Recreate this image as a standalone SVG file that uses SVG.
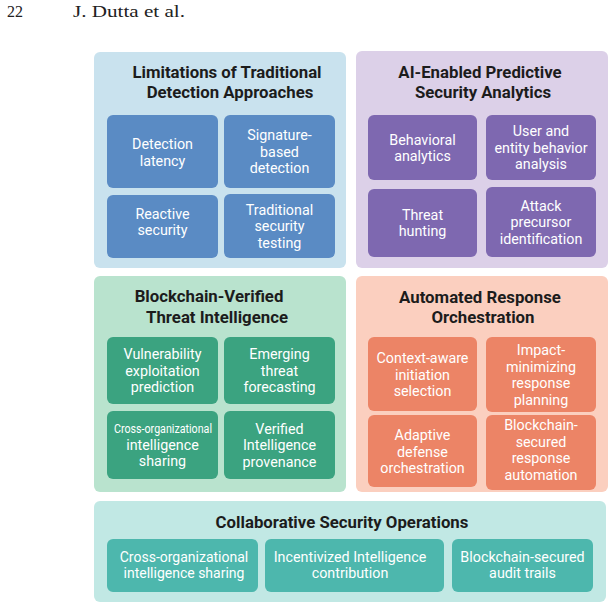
<svg xmlns="http://www.w3.org/2000/svg" width="615" height="609" viewBox="0 0 615 609">
<style>
.hdr{font-family:"Liberation Serif",serif;font-size:16px;fill:#222}
.ttl{font-family:Roboto,"Liberation Sans",sans-serif;font-size:16.8px;font-weight:bold;fill:#1c1c1c;text-anchor:middle}
.lbl{font-family:Roboto,"Liberation Sans",sans-serif;font-size:14.3px;fill:#ffffff;text-anchor:middle}
.p1{fill:#c9e2ee}.b1{fill:#5a8bc4}
.p2{fill:#dcd0e8}.b2{fill:#7e68b0}
.p3{fill:#b9e3ce}.b3{fill:#3ba380}
.p4{fill:#fbcfbf}.b4{fill:#ec8466}
.p5{fill:#c1e8e4}.b5{fill:#4db7ad}
</style>
<rect width="615" height="609" fill="#ffffff"/>
<text class="hdr" x="7" y="17">22</text>
<text class="hdr" x="73" y="17" textLength="112" lengthAdjust="spacingAndGlyphs">J. Dutta et al.</text>

<g id="panel-limitations">
<rect class="p1" x="94" y="52" width="252" height="216" rx="6"/>
<text class="ttl" x="227" y="78">Limitations of Traditional</text>
<text class="ttl" x="230" y="98">Detection Approaches</text>
<g id="n-detection-latency"><rect class="b1" x="107" y="115" width="111" height="73" rx="6"/>
<text class="lbl" x="162.5" y="149">Detection</text><text class="lbl" x="162.5" y="165.5">latency</text></g>
<g id="n-signature"><rect class="b1" x="224" y="115" width="111" height="73" rx="6"/>
<text class="lbl" x="279.5" y="140">Signature-</text><text class="lbl" x="279.5" y="156.5">based</text><text class="lbl" x="279.5" y="173">detection</text></g>
<g id="n-reactive"><rect class="b1" x="107" y="195" width="111" height="63" rx="6"/>
<text class="lbl" x="162.5" y="218.5">Reactive</text><text class="lbl" x="162.5" y="235">security</text></g>
<g id="n-trad-testing"><rect class="b1" x="224" y="194" width="111" height="64" rx="6"/>
<text class="lbl" x="279.5" y="214.5">Traditional</text><text class="lbl" x="279.5" y="231">security</text><text class="lbl" x="279.5" y="247.5">testing</text></g>
</g>

<g id="panel-ai">
<rect class="p2" x="356" y="51" width="252" height="217" rx="6"/>
<text class="ttl" x="480" y="78">AI-Enabled Predictive</text>
<text class="ttl" x="483" y="98">Security Analytics</text>
<g id="n-behavioral"><rect class="b2" x="368" y="115" width="109" height="65" rx="6"/>
<text class="lbl" x="422.5" y="144.5">Behavioral</text><text class="lbl" x="422.5" y="161">analytics</text></g>
<g id="n-ueba"><rect class="b2" x="486" y="115" width="110" height="65" rx="6"/>
<text class="lbl" x="541" y="136">User and</text><text class="lbl" x="541" y="152.5">entity behavior</text><text class="lbl" x="541" y="169">analysis</text></g>
<g id="n-threat-hunting"><rect class="b2" x="368" y="189" width="109" height="68" rx="6"/>
<text class="lbl" x="422.5" y="219.5">Threat</text><text class="lbl" x="422.5" y="236">hunting</text></g>
<g id="n-attack-precursor"><rect class="b2" x="486" y="187" width="110" height="70" rx="6"/>
<text class="lbl" x="541" y="210.5">Attack</text><text class="lbl" x="541" y="227">precursor</text><text class="lbl" x="541" y="243.5">identification</text></g>
</g>

<g id="panel-blockchain">
<rect class="p3" x="94" y="276" width="252" height="216" rx="6"/>
<text class="ttl" x="209" y="302">Blockchain-Verified</text>
<text class="ttl" x="217" y="323">Threat Intelligence</text>
<g id="n-vuln"><rect class="b3" x="107" y="337" width="111" height="67" rx="6"/>
<text class="lbl" x="162.5" y="359">Vulnerability</text><text class="lbl" x="162.5" y="375.5">exploitation</text><text class="lbl" x="162.5" y="392">prediction</text></g>
<g id="n-emerging"><rect class="b3" x="224" y="337" width="111" height="67" rx="6"/>
<text class="lbl" x="279.5" y="359">Emerging</text><text class="lbl" x="279.5" y="375.5">threat</text><text class="lbl" x="279.5" y="392">forecasting</text></g>
<g id="n-cross-org"><rect class="b3" x="107" y="411" width="111" height="68" rx="6"/>
<text class="lbl" x="163" y="432.5" style="font-size:12px" textLength="98" lengthAdjust="spacingAndGlyphs">Cross-organizational</text><text class="lbl" x="162.5" y="449.5">intelligence</text><text class="lbl" x="162.5" y="466">sharing</text></g>
<g id="n-verified"><rect class="b3" x="224" y="411" width="111" height="68" rx="6"/>
<text class="lbl" x="279.5" y="433.5">Verified</text><text class="lbl" x="279.5" y="450">Intelligence</text><text class="lbl" x="279.5" y="466.5">provenance</text></g>
</g>

<g id="panel-response">
<rect class="p4" x="356" y="276" width="252" height="216" rx="6"/>
<text class="ttl" x="480" y="303">Automated Response</text>
<text class="ttl" x="483" y="323">Orchestration</text>
<g id="n-context"><rect class="b4" x="368" y="337" width="109" height="74" rx="6"/>
<text class="lbl" x="422.5" y="363">Context-aware</text><text class="lbl" x="422.5" y="379.5">initiation</text><text class="lbl" x="422.5" y="396">selection</text></g>
<g id="n-impact"><rect class="b4" x="486" y="337" width="110" height="75" rx="6"/>
<text class="lbl" x="541" y="355">Impact-</text><text class="lbl" x="541" y="371.5">minimizing</text><text class="lbl" x="541" y="388">response</text><text class="lbl" x="541" y="404.5">planning</text></g>
<g id="n-adaptive"><rect class="b4" x="368" y="415" width="109" height="72" rx="6"/>
<text class="lbl" x="422.5" y="440">Adaptive</text><text class="lbl" x="422.5" y="456.5">defense</text><text class="lbl" x="422.5" y="473">orchestration</text></g>
<g id="n-bc-response"><rect class="b4" x="486" y="415" width="110" height="75" rx="6"/>
<text class="lbl" x="541" y="430">Blockchain-</text><text class="lbl" x="541" y="446.5">secured</text><text class="lbl" x="541" y="463">response</text><text class="lbl" x="541" y="479.5">automation</text></g>
</g>

<g id="panel-collab">
<rect class="p5" x="94" y="501" width="512" height="101" rx="6"/>
<text class="ttl" x="342" y="528">Collaborative Security Operations</text>
<g id="n-collab-cross"><rect class="b5" x="107" y="539" width="151" height="53" rx="6"/>
<text class="lbl" x="184" y="561.5" style="font-size:14px">Cross-organizational</text><text class="lbl" x="184" y="578" style="font-size:14px">intelligence sharing</text></g>
<g id="n-incentive"><rect class="b5" x="265" y="539" width="179" height="53" rx="6"/>
<text class="lbl" x="350" y="561.5">Incentivized Intelligence</text><text class="lbl" x="350" y="578">contribution</text></g>
<g id="n-audit"><rect class="b5" x="452" y="539" width="141" height="53" rx="6"/>
<text class="lbl" x="522.5" y="561.5">Blockchain-secured</text><text class="lbl" x="522.5" y="578">audit trails</text></g>
</g>
<g id="connectors"/>
</svg>
